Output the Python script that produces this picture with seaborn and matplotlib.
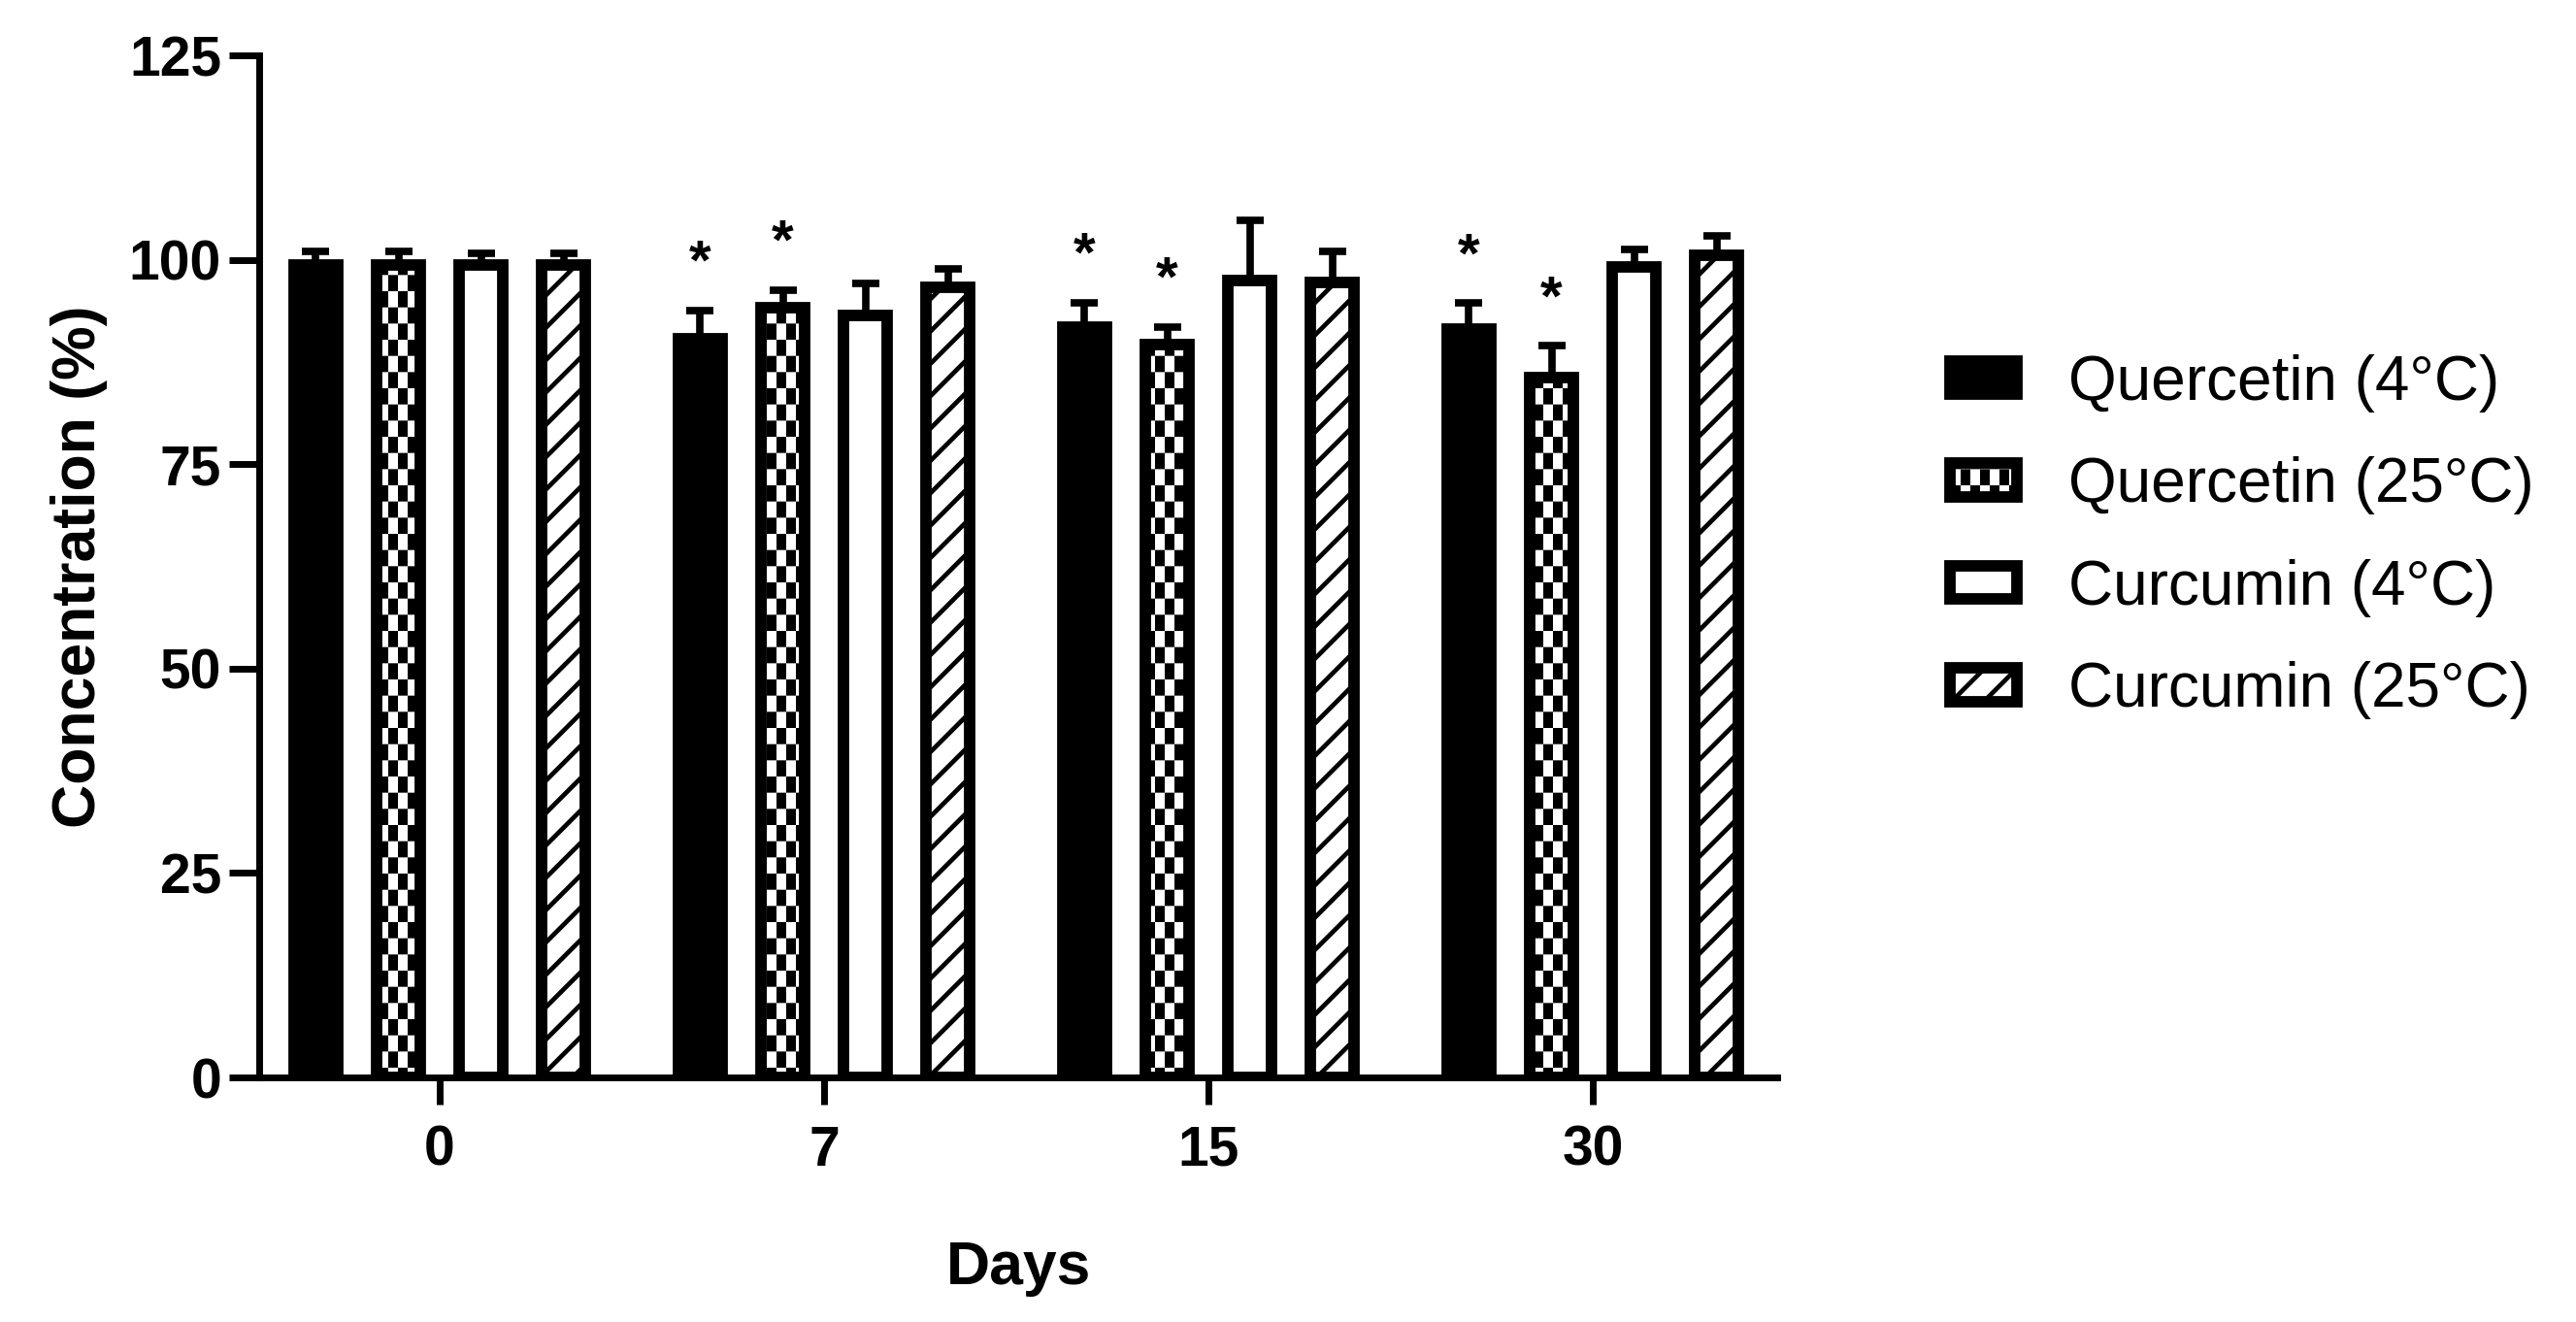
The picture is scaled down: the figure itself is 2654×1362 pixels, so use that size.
import numpy as np
import pandas as pd
import matplotlib
matplotlib.use("Agg")
import matplotlib.pyplot as plt
import matplotlib.hatch as mhatch
from matplotlib.path import Path
import seaborn as sns

# ---------------- data ----------------
days = ["0", "7", "15", "30"]
series = ["Quercetin (4°C)", "Quercetin (25°C)", "Curcumin (4°C)", "Curcumin (25°C)"]

quercetin_4 = [99.4, 90.4, 91.8, 91.5]
quercetin_4_sd = [1.6, 3.4, 3.0, 3.2]
quercetin_25 = [99.4, 94.2, 89.7, 85.6]
quercetin_25_sd = [1.6, 2.1, 2.1, 3.9]
curcumin_4 = [99.4, 93.2, 97.5, 99.1]
curcumin_4_sd = [1.4, 3.9, 7.3, 2.2]
curcumin_25 = [99.4, 96.6, 97.2, 100.6]
curcumin_25_sd = [1.4, 2.3, 3.8, 2.4]

quercetin_4_sig = [False, True, True, True]
quercetin_25_sig = [False, True, True, True]
curcumin_4_sig = [False, False, False, False]
curcumin_25_sig = [False, False, False, False]

all_means = [quercetin_4, quercetin_25, curcumin_4, curcumin_25]
all_sds = [quercetin_4_sd, quercetin_25_sd, curcumin_4_sd, curcumin_25_sd]
all_sig = [quercetin_4_sig, quercetin_25_sig, curcumin_4_sig, curcumin_25_sig]

HATCH_LW = 3.4  # points


# ---------------- custom checker hatch ----------------
class CheckerHatch(mhatch.HatchPatternBase):
    NX, NY = 10, 6

    def __init__(self, hatch, density):
        self.num_vertices = 5 * (self.NX * self.NY // 2) if "c" in hatch else 0

    def set_vertices_and_codes(self, vertices, codes):
        cx, cy = 1.0 / self.NX, 1.0 / self.NY
        s = HATCH_LW / 72.0 / 2.0
        k = 0
        for i in range(self.NX):
            for j in range(self.NY):
                if (i + j) % 2 == 0:
                    x0, y0 = i * cx + s, j * cy + s
                    x1, y1 = (i + 1) * cx - s, (j + 1) * cy - s
                    vertices[k:k + 5] = [(x0, y0), (x1, y0), (x1, y1), (x0, y1), (x0, y0)]
                    codes[k] = Path.MOVETO
                    codes[k + 1:k + 4] = Path.LINETO
                    codes[k + 4] = Path.CLOSEPOLY
                    k += 5


mhatch._hatch_types.append(CheckerHatch)
mhatch._validate_hatch_pattern = lambda hatch: None

# ---------------- style ----------------
sns.set_style("ticks", rc={"axes.edgecolor": "black", "text.color": "black",
                           "axes.labelcolor": "black", "xtick.color": "black",
                           "ytick.color": "black"})
plt.rcParams["font.family"] = ["Liberation Sans", "DejaVu Sans"]
plt.rcParams["hatch.linewidth"] = HATCH_LW
plt.rcParams["hatch.color"] = "black"

rows = []
for s, vals in zip(series, all_means):
    for d, v in zip(days, vals):
        rows.append({"Days": d, "Series": s, "Value": v})
df = pd.DataFrame(rows)

fig, ax = plt.subplots(figsize=(26.54, 13.62), dpi=100)
fig.subplots_adjust(left=0.1006, right=0.690, top=0.958, bottom=0.185)

sns.barplot(data=df, x="Days", y="Value", hue="Series", order=days, hue_order=series,
            errorbar=None, width=0.86, gap=0.47, saturation=1,
            palette=["black", "white", "white", "white"],
            edgecolor="black", linewidth=8.5, legend=False, ax=ax)

bar_containers = list(ax.containers)
styles = [("black", None), ("white", "c"), ("white", None), ("white", "/")]
for cont, (fc, hatch) in zip(bar_containers, styles):
    for p in cont.patches:
        p.set_facecolor(fc)
        p.set_edgecolor("black")
        p.set_linewidth(8.5)
        if hatch:
            p.set_hatch(hatch)

for cont, means, sds, sig in zip(bar_containers, all_means, all_sds, all_sig):
    xs = [p.get_x() + p.get_width() / 2 for p in cont.patches]
    ax.errorbar(xs, means, yerr=[np.zeros(len(sds)), sds], fmt="none",
                ecolor="black", elinewidth=5.5, capsize=10, capthick=5.5, zorder=0.9)
    for x, m, s, f in zip(xs, means, sds, sig):
        if f:
            ax.text(x, m + s + 3.8, "*", ha="center", va="baseline",
                    fontsize=42, fontweight="bold", color="black")

ax.set_ylim(0, 125)
ax.set_yticks([0, 25, 50, 75, 100, 125])
ax.set_xlim(-0.47, 3.48)
sns.despine(ax=ax)
for sp in ["left", "bottom"]:
    ax.spines[sp].set_linewidth(5)
    ax.spines[sp].set_color("black")
ax.tick_params(axis="y", width=5, length=22, labelsize=41, pad=6, color="black",
               labelcolor="black")
ax.tick_params(axis="x", width=5, length=20, labelsize=41, pad=15, color="black",
               labelcolor="black")
for lab in ax.get_xticklabels() + ax.get_yticklabels():
    lab.set_fontweight("bold")

ax.set_xlabel("Days", fontsize=45, fontweight="bold", color="black")
ax.set_ylabel("Concentration (%)", fontsize=45, fontweight="bold", color="black")
ax.xaxis.set_label_coords(0.5, -0.159)
ax.yaxis.set_label_coords(-0.10, 0.5)

handles = [cont.patches[0] for cont in bar_containers]
fig.legend(handles, series, loc="center left", bbox_to_anchor=(0.7568, 0.594),
           frameon=False, prop={"family": "Liberation Sans", "size": 46},
           handlelength=1.09, handleheight=0.455, handletextpad=0.83,
           labelspacing=0.71, borderpad=0, borderaxespad=0, labelcolor="black")

fig.savefig("out.png", dpi=100, facecolor="white")
